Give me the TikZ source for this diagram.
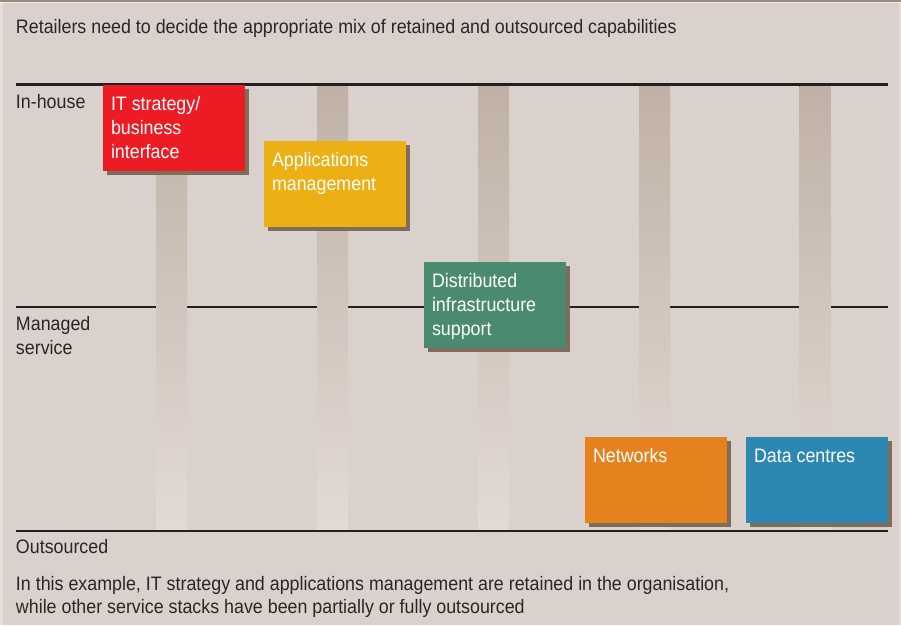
\documentclass[tikz,border=0pt]{standalone}
\usepackage{fontspec}
\setmainfont[FakeStretch=0.915]{Liberation Sans}
\usetikzlibrary{calc,shadows}

\definecolor{paper}{HTML}{DBD1CC}
\definecolor{paperedge}{HTML}{E4DDD9}
\definecolor{topband}{HTML}{9D8A7B}
\definecolor{ink}{HTML}{2A2526}
\definecolor{rulec}{HTML}{231F20}
\definecolor{barTop}{HTML}{BFB1A5}
\definecolor{barBottom}{HTML}{E3DAD4}
\definecolor{shadowc}{HTML}{7F6C5D}
\definecolor{itred}{HTML}{ED1C24}
\definecolor{appyellow}{HTML}{EDB014}
\definecolor{distgreen}{HTML}{4A8B70}
\definecolor{netorange}{HTML}{E6821E}
\definecolor{dcblue}{HTML}{2C87B3}

\begin{document}
\begin{tikzpicture}[x=1pt,y=-1pt,
  every node/.style={font=\fontsize{19.5}{24}\selectfont, inner sep=0pt, outer sep=0pt},
  caption/.style={anchor=base west, align=left, text=ink},
  stackbox/.style={anchor=north west, minimum width=142pt, minimum height=86pt,
    drop shadow={shadow xshift=3.5pt, shadow yshift=-3.5pt, fill=shadowc, opacity=1}},
  stacklabel/.style={anchor=base west, align=left, text=white},
  rule/.style={draw=rulec, line width=2.4pt},
  stackbar/.style={top color=barTop, bottom color=barBottom}]

\useasboundingbox (0,0) rectangle (901,625);

% paper and its edges
\fill[paper] (0,0) rectangle (901,625);
\fill[paperedge] (0,0) rectangle (3,625);
\fill[paperedge] (898.5,0) rectangle (901,625);
\fill[topband] (0,0) rectangle (901,1.8);
\fill[white, opacity=0.6] (0,1.8) rectangle (901,2.6);

% middle level line (the stack bars run over it)
\draw[rule] (16,307) -- (888,307);

% stack bars
\foreach \cx in {171.5,332.5,493.5,654.5,814.8}
  \fill[stackbar] (\cx-15.5,86) rectangle (\cx+15.5,530);

% top and bottom level lines
\draw[rule] (16,84.6) -- (888,84.6);
\draw[rule] (16,531.2) -- (888,531.2);

% texts (a multi-line node sits on the baseline of its last line)
\node[caption] (title) at (16,33.3) {Retailers need to decide the appropriate mix of retained and outsourced capabilities};
\node[caption] (inhouse) at (16,108) {In-house};
\node[caption] (managed) at (16,354) {Managed\\service};
\node[caption] (outsourced) at (16,553) {Outsourced};
\node[caption, font=\fontsize{19.5}{23}\selectfont] (note) at (16,613) {In this example, IT strategy and applications management are retained in the organisation,\\while other service stacks have been partially or fully outsourced};

% service stacks
\node[stackbox, fill=itred] (itbox) at (103,85) {};
\node[stackbox, fill=appyellow] (appbox) at (264,141) {};
\node[stackbox, fill=distgreen] (distbox) at (424,262) {};
\node[stackbox, fill=netorange] (netbox) at (585,437) {};
\node[stackbox, fill=dcblue] (dcbox) at (746,437) {};

\node[stacklabel] (itlabel) at ($(itbox.north west)+(8,73)$) {IT strategy/\\business\\interface};
\node[stacklabel] (applabel) at ($(appbox.north west)+(8,49)$) {Applications\\management};
\node[stacklabel] (distlabel) at ($(distbox.north west)+(8,73)$) {Distributed\\infrastructure\\support};
\node[stacklabel] (netlabel) at ($(netbox.north west)+(8,25)$) {Networks};
\node[stacklabel] (dclabel) at ($(dcbox.north west)+(8,25)$) {Data centres};

\end{tikzpicture}
\end{document}
